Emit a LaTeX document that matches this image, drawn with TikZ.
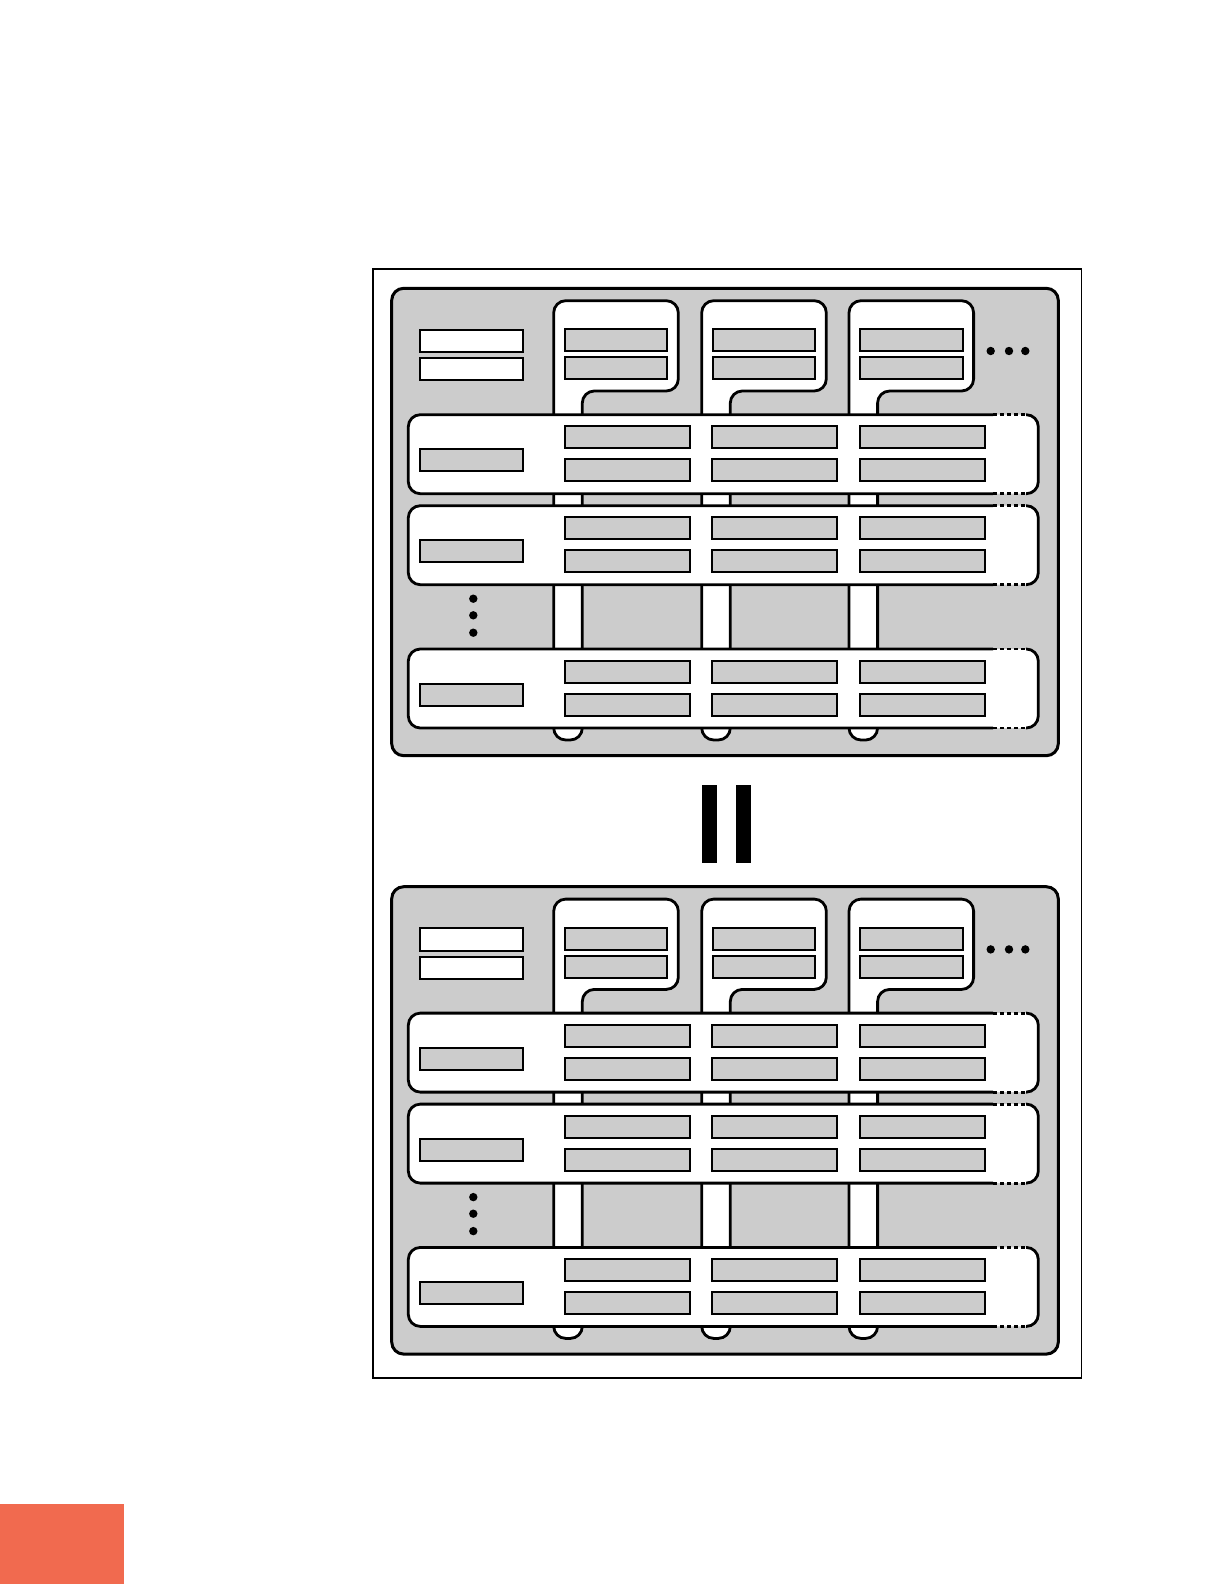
\documentclass[tikz,border=0pt]{standalone}
\usepackage{tikz}
\definecolor{cornerred}{RGB}{241,106,79}
\tikzset{
  panel/.style={fill=black!20, draw=black, line width=1.5bp, rounded corners=6bp},
  slot/.style={fill=white, draw=black, line width=1.4bp, rounded corners=6bp},
  cardfill/.style={fill=white, rounded corners=6bp},
  cardline/.style={draw=black, line width=1.4bp, rounded corners=6bp},
  cardgap/.style={draw=black, line width=1.4bp, dash pattern=on 2bp off 1.5bp},
  graybox/.style={fill=black!20, draw=black, line width=1bp},
  whitebox/.style={fill=white, draw=black, line width=1bp},
  bigdot/.style={fill=black}
}
% one card, #1 = top edge
\def\card#1{%
  \fill[cardfill] (408.3,#1) rectangle (1038.3,{#1+79});
  \draw[cardline] (993,#1) -- (408.3,#1) -- (408.3,{#1+79}) -- (993,{#1+79});
  \draw[cardline] (1026,#1) -- (1038.3,#1) -- (1038.3,{#1+79}) -- (1026,{#1+79});
  \draw[cardgap] (993,#1) -- (1026,#1) (993,{#1+79}) -- (1026,{#1+79});
  \draw[graybox] (420,{#1+34.6}) rectangle (522.7,{#1+56.6});
  \foreach \bx in {565,712.3,860.3} {
    \draw[graybox] (\bx,{#1+11.6}) rectangle ++(125,22);
    \draw[graybox] (\bx,{#1+44.6}) rectangle ++(125,22);
  }
}
% one rack, #1 = vertical offset
\def\rack#1{%
  \begin{scope}[shift={(0,#1)}]
    \draw[panel] (391.7,288.3) rectangle (1058.3,755.7);
    \draw[whitebox] (420,329.7) rectangle (522.7,352.3);
    \draw[whitebox] (420,358.3) rectangle (522.7,380.3);
    \foreach \sx in {553.7,701.7,849} {
      \draw[slot] (\sx,600) -- (\sx,300.7) -- (\sx+124.6,300.7) -- (\sx+124.6,391)
        -- (\sx+28.6,391) -- (\sx+28.6,740) -- (\sx,740) -- cycle;
      \draw[graybox] (\sx+11.3,329.3) rectangle ++(102.3,22);
      \draw[graybox] (\sx+11.3,357.3) rectangle ++(102.3,22);
    }
    \card{414.7}
    \card{505.7}
    \card{649}
    \foreach \dy in {598.7,615.3,632.7}
      \fill[bigdot] (473.3,\dy) circle[radius=2.1bp];
    \foreach \dx in {990.7,1009,1025.3}
      \fill[bigdot] (\dx,351) circle[radius=2.1bp];
  \end{scope}}

\begin{document}
\begin{tikzpicture}[x=0.5bp, y=-0.5bp]
  \useasboundingbox (0,0) rectangle (1224,1584);

  \draw[line width=0.85bp] (372.7,269.3) rectangle (1081.5,1378);

  \rack{0}
  \rack{598.4}

  % the two bars
  \fill[black] (702,785) rectangle (717,862.7);
  \fill[black] (736,785) rectangle (751,862.7);

  \fill[cornerred] (0,1504) rectangle (124,1584);
\end{tikzpicture}
\end{document}
